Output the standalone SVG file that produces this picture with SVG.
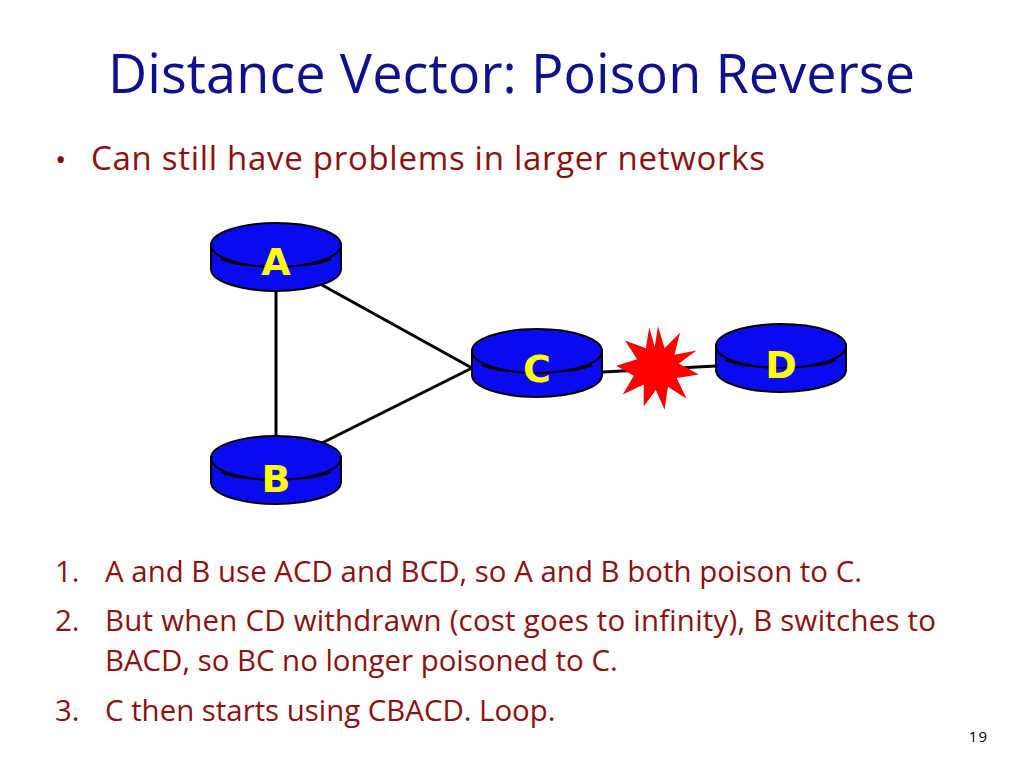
<svg xmlns="http://www.w3.org/2000/svg" width="1024" height="768" viewBox="0 0 1024 768">
<style>
.t{font-family:"Open Sans","Liberation Sans",sans-serif;}
.body{fill:#8b1010;font-size:29.4px;}
.lab{font-family:"DejaVu Sans",sans-serif;font-weight:bold;font-size:38px;fill:#ffff00;text-anchor:middle;}
.r{fill:#0a0af0;stroke:#000;stroke-width:2;}
.ln{stroke:#000;stroke-width:3;fill:none;}
</style>
<defs>
<g id="router">
<path class="r" d="M-65,0 v24 A65,22 0 0 0 65,24 v-24 Z"/>
<ellipse class="r" cx="0" cy="0" rx="65" ry="22"/>
<path d="M-55,14 Q-40,20 -25,20 M25,20 Q40,20 55,14" stroke="#000" stroke-width="2" fill="none"/>
</g>
</defs>
<rect width="1024" height="768" fill="#fff"/>
<text class="t" x="108" y="93" font-size="54" fill="#10108f" textLength="807">Distance Vector: Poison Reverse</text>
<text class="t" x="55" y="170" font-size="30" fill="#8b1010">•</text>
<text class="t" x="91" y="170" font-size="33" fill="#8b1010" textLength="674">Can still have problems in larger networks</text>
<g id="connectors">
<line class="ln" x1="276" y1="290" x2="276" y2="437"/>
<line class="ln" x1="322" y1="285" x2="472" y2="368"/>
<line class="ln" x1="322" y1="443" x2="472" y2="368"/>
<line class="ln" x1="603" y1="372" x2="716" y2="366"/>
</g>
<g id="star"><polygon fill="#ff0000" transform="translate(658,368) scale(1.1) translate(-658,-368)" points="658,330 664,350 678,336 673,356 693,352 677,364 695,374 675,377 684,396 667,385 664,406 656,388 645,403 645,383 626,392 636,375 620,366 639,360 628,343 647,350 650,331 655,349"/></g>
<g id="nodeA"><use href="#router" x="276" y="245"/><text class="lab" x="276" y="275">A</text></g>
<g id="nodeC"><use href="#router" x="537" y="351"/><text class="lab" x="537" y="382">C</text></g>
<g id="nodeD"><use href="#router" x="781" y="346"/><text class="lab" x="781" y="378">D</text></g>
<g id="nodeB"><use href="#router" x="276" y="458"/><text class="lab" x="276" y="492">B</text></g>
<g class="t body">
<text x="55" y="582">1.</text><text x="105" y="582" textLength="757">A and B use ACD and BCD, so A and B both poison to C.</text>
<text x="55" y="631">2.</text><text x="105" y="631" textLength="831">But when CD withdrawn (cost goes to infinity), B switches to</text>
<text x="105" y="671">BACD, so BC no longer poisoned to C.</text>
<text x="55" y="721">3.</text><text x="105" y="721">C then starts using CBACD.  Loop.</text>
</g>
<text class="t" x="988" y="742" font-size="15" fill="#000" text-anchor="end" letter-spacing="1">19</text>
</svg>
